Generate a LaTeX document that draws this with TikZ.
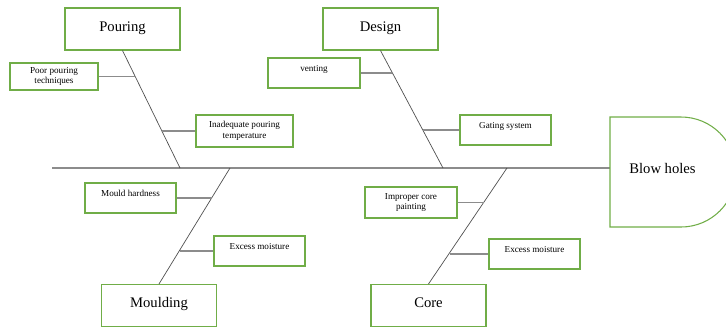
\documentclass[tikz,border=0pt]{standalone}
\usepackage{fontspec}
\setmainfont{Liberation Serif}
\usepackage{xcolor}
\usetikzlibrary{positioning, calc}
\definecolor{boxgreen}{HTML}{70AD47}
\definecolor{bonegray}{HTML}{505050}
\definecolor{twiggray}{HTML}{8C8C8C}
\tikzset{
    category/.style={draw=boxgreen, line width=0.9pt, minimum width=115*0.03cm, minimum height=42*0.03cm, text depth=0.16cm, font=\fontsize{12.5}{14}\selectfont},
    cause/.style={draw=boxgreen, line width=0.9pt, minimum width=91*0.03cm, minimum height=30*0.03cm, align=center, font=\fontsize{7.8}{9}\selectfont},
    high/.style={text depth=0.28cm},
    bone/.style={bonegray, line width=0.6pt},
    twig/.style={twiggray, line width=0.9pt}
}

\begin{document}
\begin{tikzpicture}[x=0.03cm, y=-0.03cm]
    \useasboundingbox (0,0) rectangle (726,327);

    % Spine and head
    \coordinate (tail) at (52,168);
    \coordinate (head) at (610,168);
    \draw[twiggray, line width=1.2pt] (tail) -- (head);
    \draw[boxgreen, line width=0.9pt] (610,117) -- (681,117) arc (90:-90:1.65cm) -- (610,227) -- cycle;
    \node[font=\fontsize{12.5}{14}\selectfont] (blow) at (662.5,168) {Blow holes};

    % Category boxes
    \node[category] (pour) at (122.5,29) {Pouring};
    \node[category] (design) at (380.5,29) {Design};
    \node[category] (mould) at (159,305.5) {Moulding};
    \node[category] (core) at (428.5,305.5) {Core};

    % Points where the bones meet the spine
    \coordinate (s1) at (180,168);
    \coordinate (s2) at (443,168);
    \coordinate (s3) at (230,168);
    \coordinate (s4) at (507,168);

    % Bones
    \draw[bone] (pour.south) -- (s1);
    \draw[bone] (design.south) -- (s2);
    \draw[bone] (mould.north) -- (s3);
    \draw[bone] (core.north) -- (s4);

    % Causes
    \node[cause, minimum width=88*0.03cm, minimum height=27*0.03cm] (poor) at (54,76.5) {Poor pouring\\techniques};
    \node[cause, minimum width=97*0.03cm, minimum height=32*0.03cm] (inadeq) at (244.5,131) {Inadequate pouring\\temperature};
    \node[cause, high, minimum width=92*0.03cm] (vent) at (314,73) {venting};
    \node[cause, high] (gating) at (505.5,130) {Gating system};
    \node[cause, high] (hard) at (130.5,198) {Mould hardness};
    \node[cause, high] (moist1) at (259.5,251) {Excess moisture};
    \node[cause, minimum width=92*0.03cm, minimum height=31*0.03cm] (paint) at (411,202.5) {Improper core\\painting};
    \node[cause, high] (moist2) at (534.5,254) {Excess moisture};

    % Twigs
    \draw[twig] (poor.east) -- (poor.east -| {$(pour.south)!0.22!(s1)$});
    \draw[twig] (inadeq.west) -- (inadeq.west -| {$(pour.south)!0.69!(s1)$});
    \draw[twig] (vent.east) -- (vent.east -| {$(design.south)!0.19!(s2)$});
    \draw[twig] (gating.west) -- (gating.west -| {$(design.south)!0.68!(s2)$});
    \draw[twig] (hard.east) -- (hard.east -| {$(s3)!0.26!(mould.north)$});
    \draw[twig] (moist1.west) -- (moist1.west -| {$(s3)!0.70!(mould.north)$});
    \draw[twig] (paint.east) -- (paint.east -| {$(s4)!0.29!(core.north)$});
    \draw[twig] (moist2.west) -- (moist2.west -| {$(s4)!0.73!(core.north)$});
\end{tikzpicture}
\end{document}
